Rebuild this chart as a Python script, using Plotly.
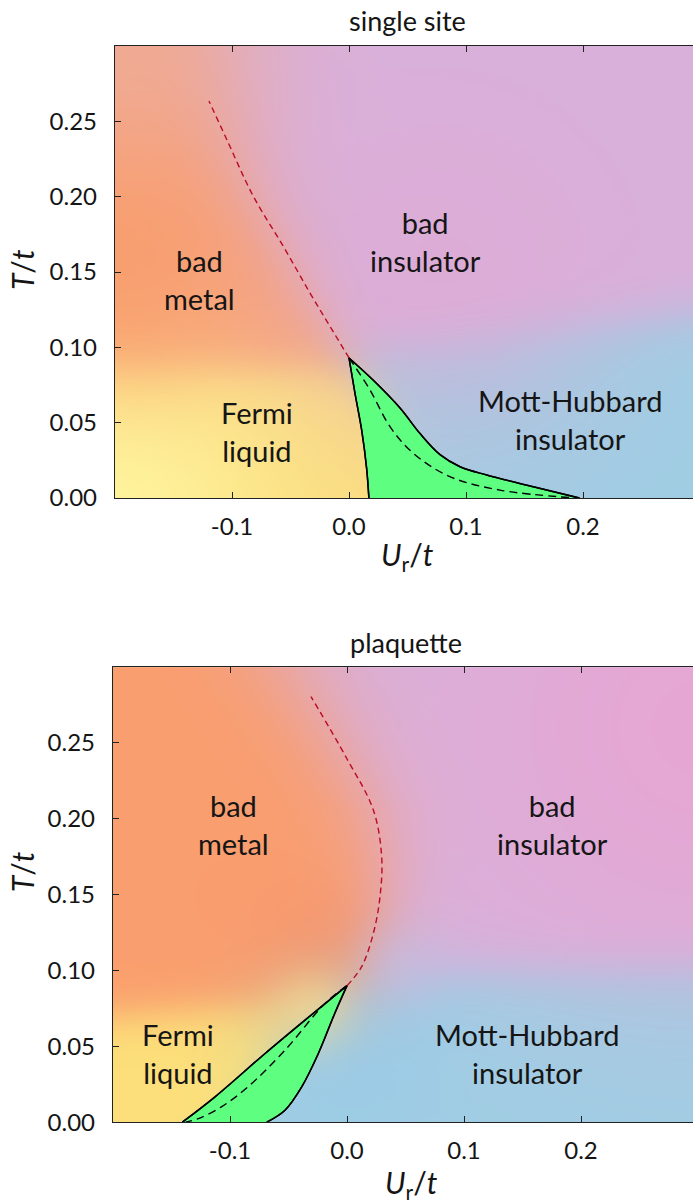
import base64
import struct
import zlib

import numpy as np
import plotly.graph_objects as go

# ---------------- single-site phase diagram ----------------
ss_cross_U = [0.0, -0.0162, -0.0333, -0.0561, -0.0818, -0.1045, -0.1197]
ss_cross_T = [0.093, 0.1139, 0.136, 0.167, 0.2003, 0.238, 0.2635]
ss_left_U = [0.0, 0.005, 0.0108, 0.015, 0.017]
ss_left_T = [0.093, 0.07, 0.0452, 0.02, 0.0]
ss_right_U = [0.0, 0.0208, 0.0436, 0.0607, 0.0778, 0.0949, 0.1177, 0.1575, 0.197]
ss_right_T = [0.093, 0.0782, 0.0598, 0.0428, 0.0288, 0.0208, 0.0153, 0.0075, 0.0]
ss_first_U = [0.0, 0.0179, 0.035, 0.055, 0.0863, 0.129, 0.1946]
ss_first_T = [0.093, 0.0718, 0.0474, 0.0297, 0.0142, 0.0053, 0.0]

# ---------------- plaquette phase diagram ----------------
pq_cross_U = [0.0, 0.0125, 0.0225, 0.0282, 0.0296, 0.0225, -0.0003, -0.0308]
pq_cross_T = [0.090, 0.1025, 0.1245, 0.1486, 0.175, 0.2058, 0.2399, 0.2806]
pq_left_U = [0.0, -0.0359, -0.070, -0.1128, -0.1407]
pq_left_T = [0.090, 0.0673, 0.0453, 0.0167, 0.0]
pq_right_U = [0.0, -0.0105, -0.0245, -0.0387, -0.053, -0.0686]
pq_right_T = [0.090, 0.0717, 0.0453, 0.0233, 0.0079, 0.0]
pq_first_U = [0.0, -0.0188, -0.053, -0.0846, -0.1074, -0.127, -0.138]
pq_first_T = [0.090, 0.0783, 0.0475, 0.0233, 0.0101, 0.0024, 0.0]

# coherence crossovers (metal side / insulator side)
ss_metal_split_U = [-0.2, -0.1, 0.0]
ss_metal_split_T = [0.084, 0.085, 0.087]
ss_ins_split_U = [0.0, 0.1, 0.2, 0.3]
ss_ins_split_T = [0.096, 0.106, 0.114, 0.122]
pq_metal_split_U = [-0.2, -0.1, 0.0]
pq_metal_split_T = [0.07, 0.076, 0.086]
pq_ins_split_U = [0.0, 0.1, 0.2, 0.3]
pq_ins_split_T = [0.094, 0.099, 0.10, 0.102]

# phase colours
C_BAD_METAL = (250, 158, 110)
C_FERMI = (253, 224, 122)
C_BAD_INS = (217, 177, 219)
C_MOTT = (160, 206, 228)

# local tints: (U, T, colour, radius in px, strength)
ss_tints = [
    (-0.2, 0.30, (240, 172, 150), 90, 0.9),
    (-0.2, 0.0, (255, 246, 160), 110, 0.9),
    (-0.19, 0.13, (248, 150, 104), 70, 0.5),
    (0.08, 0.15, (223, 170, 213), 120, 0.6),
]
pq_tints = [
    (-0.02, 0.11, (250, 145, 100), 45, 0.7),
    (0.30, 0.26, (234, 164, 210), 160, 0.8),
    (0.0, 0.05, (150, 200, 235), 60, 0.5),
    (-0.03, 0.075, (253, 228, 140), 30, 0.5),
    (0.045, 0.105, (196, 190, 230), 30, 0.5),
]

U_PX = 1170.0  # px per unit U
T_PX = 1510.0  # px per unit T


def sig(z):
    return 1.0 / (1.0 + np.exp(-z))


def boundary(T, cu, ct, fu, ft):
    """Metal/insulator boundary U_b(T): crossover above Tc, first-order line below."""
    cu, ct = np.asarray(cu), np.asarray(ct)
    fu, ft = np.asarray(fu)[::-1], np.asarray(ft)[::-1]
    above = np.interp(T, ct, cu)
    slope = (cu[-1] - cu[-2]) / (ct[-1] - ct[-2])
    above = np.where(T > ct[-1], cu[-1] + slope * (T - ct[-1]), above)
    below = np.interp(T, ft, fu)
    return np.where(T >= ct[0], above, below)


def phase_image(u0, u1, t0, t1, cu, ct, fu, ft, msu, mst, isu, ist, tints, W=300, H=240):
    U = u0 + (np.arange(W) + 0.5) * (u1 - u0) / W
    T = t1 - (np.arange(H) + 0.5) * (t1 - t0) / H
    UU, TT = np.meshgrid(U, T)
    ub = boundary(TT, cu, ct, fu, ft)
    wu = 0.004 + 0.085 * TT
    m = sig((ub - UU) / wu)[..., None]
    cm = sig((np.interp(UU, msu, mst) - TT) / 0.008)[..., None]
    ci = sig((np.interp(UU, isu, ist) - TT) / 0.009)[..., None]
    metal = cm * np.array(C_FERMI) + (1 - cm) * np.array(C_BAD_METAL)
    ins = ci * np.array(C_MOTT) + (1 - ci) * np.array(C_BAD_INS)
    col = m * metal + (1 - m) * ins
    for tu, tt, tc, rad, s in tints:
        d2 = ((UU - tu) * U_PX) ** 2 + ((TT - tt) * T_PX) ** 2
        a = (s * np.exp(-d2 / (2 * rad ** 2)))[..., None]
        col = col * (1 - a) + np.array(tc) * a
    return np.clip(col, 0, 255).astype(np.uint8)


def png_uri(rgb):
    h, w, _ = rgb.shape
    raw = b"".join(b"\x00" + rgb[i].tobytes() for i in range(h))

    def chunk(tag, data):
        return (struct.pack(">I", len(data)) + tag + data
                + struct.pack(">I", zlib.crc32(tag + data) & 0xFFFFFFFF))

    png = (b"\x89PNG\r\n\x1a\n"
           + chunk(b"IHDR", struct.pack(">IIBBBBB", w, h, 8, 2, 0, 0, 0))
           + chunk(b"IDAT", zlib.compress(raw, 9))
           + chunk(b"IEND", b""))
    return "data:image/png;base64," + base64.b64encode(png).decode()


FONT = "Lato"
TXT = "#151515"
GREEN = "rgb(94,255,128)"
RED = "rgb(185,12,35)"

ss_xr = [-0.2, 0.294]
pq_xr = [-0.2, 0.2957]
yr = [0.0, 0.30]

fig = go.Figure()

panels = [
    ("x", "y", ss_xr, ss_cross_U, ss_cross_T, ss_left_U, ss_left_T, ss_right_U, ss_right_T,
     ss_first_U, ss_first_T, ss_metal_split_U, ss_metal_split_T, ss_ins_split_U, ss_ins_split_T, ss_tints),
    ("x2", "y2", pq_xr, pq_cross_U, pq_cross_T, pq_left_U, pq_left_T, pq_right_U, pq_right_T,
     pq_first_U, pq_first_T, pq_metal_split_U, pq_metal_split_T, pq_ins_split_U, pq_ins_split_T, pq_tints),
]

solid = dict(color="black", width=1.5, shape="spline")
images = []
for (xa, ya, xr, cu, ct, lu, lt, ru, rt, fu, ft, msu, mst, isu, ist, tints) in panels:
    img = phase_image(xr[0], xr[1], yr[0], yr[1], cu, ct, fu, ft, msu, mst, isu, ist, tints)
    images.append(dict(source=png_uri(img), xref=xa, yref=ya, x=xr[0], y=yr[1],
                       sizex=xr[1] - xr[0], sizey=yr[1] - yr[0], xanchor="left",
                       yanchor="top", sizing="stretch", layer="below"))
    # coexistence region: filled between the two spinodal curves
    fig.add_trace(go.Scatter(x=lu, y=lt, xaxis=xa, yaxis=ya, mode="lines", line=solid,
                             hoverinfo="skip", showlegend=False))
    fig.add_trace(go.Scatter(x=ru, y=rt, xaxis=xa, yaxis=ya, mode="lines", line=solid,
                             fill="tonexty", fillcolor=GREEN,
                             hoverinfo="skip", showlegend=False))
    # spinodal curves redrawn above the fill
    for bu, bt in ((lu, lt), (ru, rt)):
        fig.add_trace(go.Scatter(x=bu, y=bt, xaxis=xa, yaxis=ya, mode="lines", line=solid,
                                 hoverinfo="skip", showlegend=False))
    fig.add_trace(go.Scatter(x=fu, y=ft, xaxis=xa, yaxis=ya, mode="lines",
                             line=dict(color="black", width=1.4, dash="8px,5px", shape="spline"),
                             hoverinfo="skip", showlegend=False))
    fig.add_trace(go.Scatter(x=cu, y=ct, xaxis=xa, yaxis=ya, mode="lines",
                             line=dict(color=RED, width=1.4, dash="6px,4px", shape="spline"),
                             hoverinfo="skip", showlegend=False))

H_FIG = 1203.0
W_FIG = 693.0
KY = 1.0111  # vertical placement factor


def py(px):
    return 1 - px * KY / H_FIG


xcommon = dict(tickvals=[-0.1, 0.0, 0.1, 0.2], ticktext=["-0.1", "0.0", "0.1", "0.2"],
               ticks="inside", ticklen=6, tickwidth=1.2, tickcolor="#222",
               showline=True, linecolor="#222", linewidth=1.4, mirror="ticks",
               showgrid=False, zeroline=False, ticklabelstandoff=7,
               tickfont=dict(family=FONT, size=24, color=TXT))
ycommon = dict(range=yr, tickvals=[0.0, 0.05, 0.10, 0.15, 0.20, 0.25],
               ticktext=["0.00", "0.05", "0.10", "0.15", "0.20", "0.25"],
               ticks="inside", ticklen=6, tickwidth=1.2, tickcolor="#222",
               showline=True, linecolor="#222", linewidth=1.4, mirror=False,
               showgrid=False, zeroline=False, ticklabelstandoff=12,
               tickfont=dict(family=FONT, size=24, color=TXT))

fig.update_layout(
    width=693, height=1203,
    margin=dict(l=0, r=0, t=0, b=0),
    paper_bgcolor="white", plot_bgcolor="white",
    showlegend=False,
    images=images,
    xaxis=dict(domain=[115 / W_FIG, 1], range=ss_xr, anchor="y", **xcommon),
    yaxis=dict(domain=[py(498), py(46)], anchor="x", **ycommon),
    xaxis2=dict(domain=[113 / W_FIG, 1], range=pq_xr, anchor="y2", **xcommon),
    yaxis2=dict(domain=[py(1122), py(667)], anchor="x2", **ycommon),
)

lab = dict(family=FONT, size=29, color=TXT)
ann = []
# region labels
for xa, ya, u, t, txt in [
    ("x", "y", -0.128, 0.145, "bad<br>metal"),
    ("x", "y", 0.065, 0.170, "bad<br>insulator"),
    ("x", "y", -0.0786, 0.044, "Fermi<br>liquid"),
    ("x", "y", 0.189, 0.052, "Mott-Hubbard<br>insulator"),
    ("x2", "y2", -0.0974, 0.196, "bad<br>metal"),
    ("x2", "y2", 0.176, 0.196, "bad<br>insulator"),
    ("x2", "y2", -0.1444, 0.0455, "Fermi<br>liquid"),
    ("x2", "y2", 0.1538, 0.0455, "Mott-Hubbard<br>insulator"),
]:
    ann.append(dict(x=u, y=t, xref=xa, yref=ya, text=txt, showarrow=False,
                    font=lab, align="center", xanchor="center", yanchor="middle"))


def label(x, xref, ypx, text, size, angle=0):
    return dict(x=x, y=py(ypx), xref=xref, yref="paper", text=text, showarrow=False,
                textangle=angle, xanchor="center", yanchor="middle",
                font=dict(family=FONT, size=size, color=TXT))


# panel titles
ann.append(label(0.05, "x", 20, "single site", 27))
ann.append(label(0.05, "x2", 642, "plaquette", 27))

# axis titles
xt = "<i>U</i><sub>r</sub>/<i>t</i>"
yt = "<i>T</i>/<i>t</i>"
ann.append(label(0.05, "x", 556, xt, 30))
ann.append(label(0.055, "x2", 1184, xt, 30))
ann.append(label(22 / W_FIG, "paper", 270, yt, 30, -90))
ann.append(label(22 / W_FIG, "paper", 872, yt, 30, -90))

fig.update_layout(annotations=ann)

fig.write_html("out.html")
